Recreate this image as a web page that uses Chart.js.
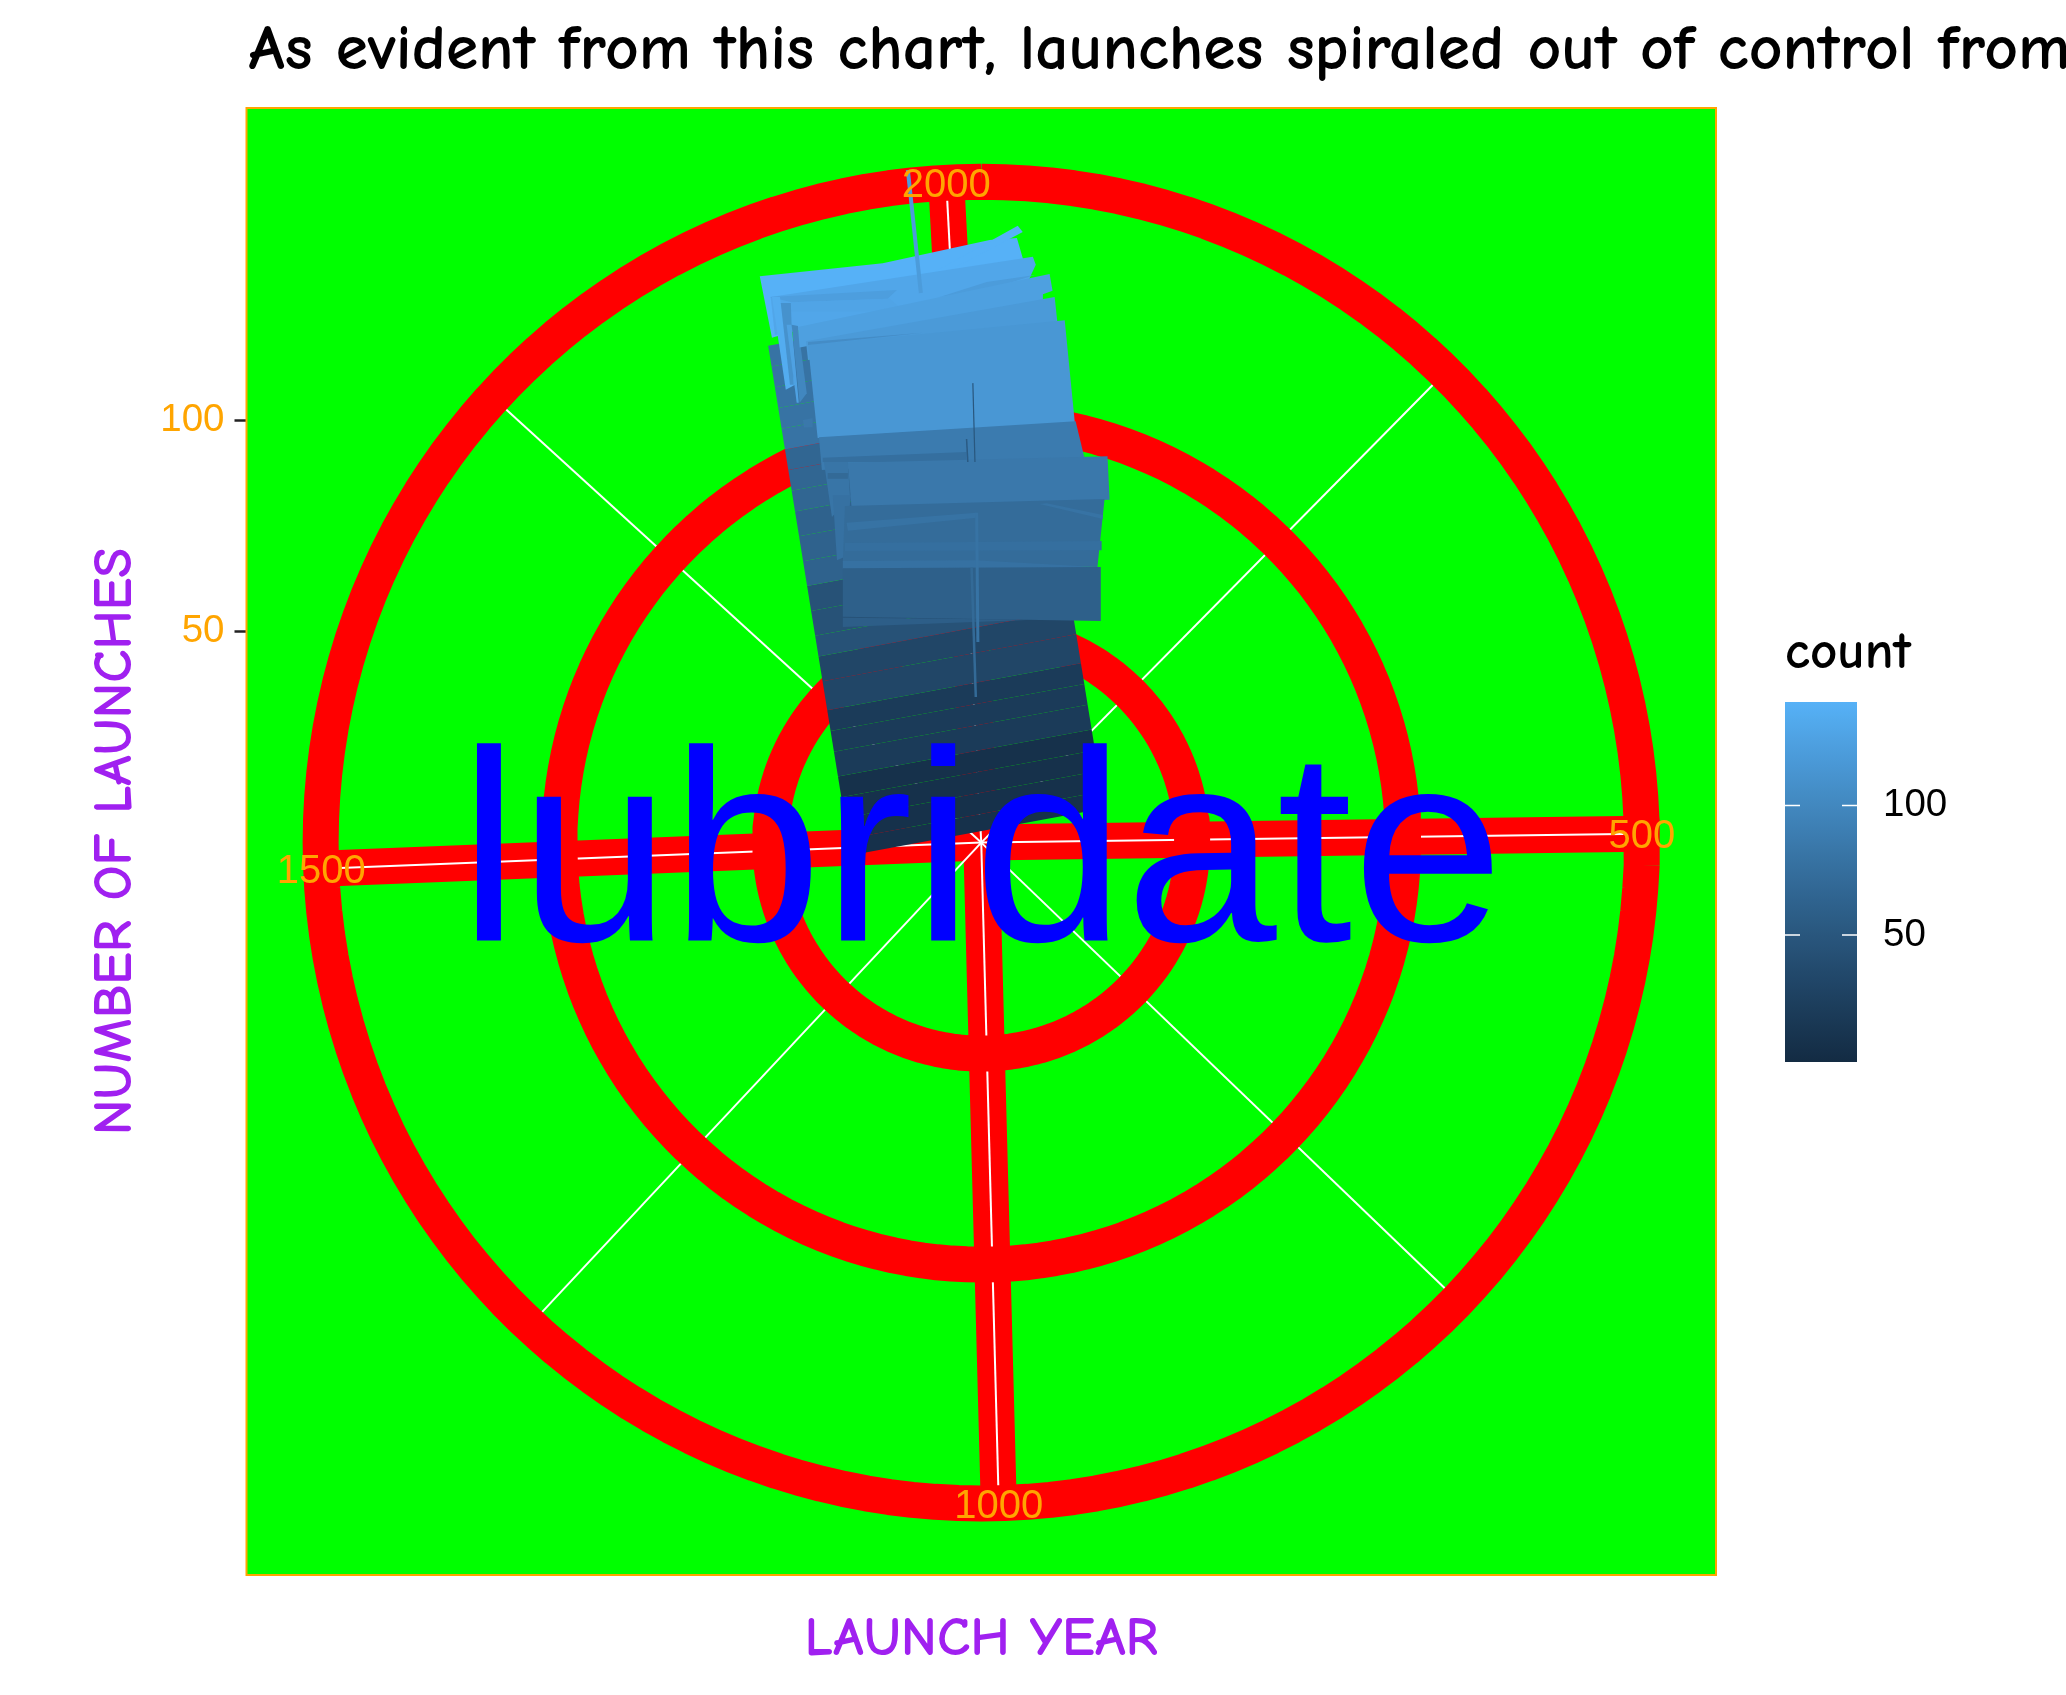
<!DOCTYPE html>
<html lang="en">
<head>
    <meta charset="UTF-8">
    <title>Launches</title>
    <script src="https://cdn.jsdelivr.net/npm/chart.js"></script>
    <style>
        html, body { margin: 0; padding: 0; background: #fff; }
        #wrap { width: 2066px; height: 1695px; }
    </style>
</head>
<body>
    <div id="wrap"><canvas id="launchChart" width="2066" height="1695"></canvas></div>

    <script>
        var titleText = 'As evident from this chart, launches spiraled out of control from';
        var yearSpan = 2017;
        var radiusMax = 156.6;
        var ringLevels = [50, 100, 156.6];
        var majorYears = [500, 1000, 1500, 2000];
        var minorYears = [250, 750, 1250, 1750];
        var yTicks = [50, 100];
        var legendTicks = [50, 100];

        // stacked rows of the column, in launches along the leaning axis
        var rowTops = [6, 11, 16, 21, 27, 32, 37, 44, 50, 55, 61, 67, 73, 79, 85, 90, 95, 100, 105, 110, 115, 120, 125];
        var rowCounts = [8, 8, 8, 8, 20, 20, 20, 32, 32, 45, 45, 45, 62, 62, 62, 66, 66, 66, 80, 80, 80, 80, 80];

        // overlapping pieces on top of the rows, as [x, y] in launches from the centre
        var patchCounts = [140, 140, 130, 122, 120, 128, 135, 110, 125, 100, 124, 118, 115, 105, 85, 88, 76, 82, 70, 78, 85, 72, 80, 80, 76, 78, 60, 58];
        var patchPoints = [
            [[-52.8,135.0],[-23.5,138.1],[2.0,143.6],[8.5,144.1],[10.6,136.9],[-13.5,131.2],[-49.9,120.3]],
            [[8.7,147.0],[9.9,145.5],[-21.1,129.3],[-22.3,129.8]],
            [[-50.2,130.0],[12.3,139.6],[13.0,137.7],[11.1,133.6],[-49.2,121.0]],
            [[-50.4,130.0],[-20.1,131.7],[-22.3,129.6],[-45.2,128.8]],
            [[-9.9,130.0],[1.3,133.6],[12.8,135.3],[1.3,131.7]],
            [[-45.4,128.8],[-21.8,129.6],[-18.2,126.5],[-45.4,126.5]],
            [[-49.9,130.0],[-48.0,130.0],[-44.4,109.1],[-46.6,107.9]],
            [[-47.8,128.6],[-45.4,128.6],[-44.7,109.1],[-45.6,109.1]],
            [[-46.4,123.4],[-45.2,123.4],[-43.5,104.8],[-44.0,104.8]],
            [[-45.2,123.4],[-43.7,123.1],[-41.6,107.1],[-43.3,104.8]],
            [[-43.7,122.9],[16.3,135.5],[17.0,131.5],[14.7,130.7],[14.7,128.8],[-43.3,118.0]],
            [[-41.8,119.5],[17.5,130.0],[18.2,123.5],[-41.3,115.0]],
            [[-41.3,118.6],[19.9,124.5],[22.3,100.2],[-39.0,96.4]],
            [[-41.3,119.3],[-13.9,121.5],[-41.3,118.6]],
            [[-42.5,100.7],[-40.2,101.2],[-40.2,99.0],[-42.3,98.9]],
            [[-38.7,96.6],[22.5,100.4],[24.6,91.7],[-38.0,88.8]],
            [[-37.8,91.7],[-3.5,93.1],[-3.5,90.7],[-37.8,90.7]],
            [[-37.5,90.7],[-31.8,90.7],[-31.3,82.4],[-35.6,77.6]],
            [[-36.6,88.1],[-31.8,88.1],[-31.8,86.7],[-36.6,86.7]],
            [[-35.4,82.8],[-31.1,82.8],[-32.5,68.1],[-34.4,67.3]],
            [[-31.8,90.5],[30.1,92.1],[30.6,81.7],[-30.9,79.7]],
            [[-32.5,80.2],[29.4,81.9],[27.7,65.7],[-33.0,66.8]],
            [[-32.1,76.2],[-1.1,78.6],[-1.1,77.4],[-31.8,74.3]],
            [[15.6,80.9],[29.0,78.1],[29.0,77.1],[13.9,80.7]],
            [[-32.5,71.4],[28.7,71.9],[28.7,69.7],[-32.5,69.5]],
            [[-33.0,67.1],[-1.5,67.3],[27.7,65.7],[27.7,64.5],[-1.5,65.2],[-33.0,65.2]],
            [[-33.0,65.4],[28.5,65.7],[28.5,52.8],[-33.0,53.8]],
            [[-33.0,53.6],[12.3,53.1],[-33.0,51.4]]
        ];

        // narrow one-launch bars seen as streaks
        var streakCounts = [120, 50, 55, 80, 70];
        var streakPoints = [
            [[-17.5,160.3],[-14.4,131.0]],
            [[-2.0,109.5],[-1.5,90.7]],
            [[-3.5,96.2],[-3.2,90.7]],
            [[-1.1,78.6],[-0.8,47.8]],
            [[-2.3,65.5],[-1.3,34.7]]
        ];

        var COMIC = '"Comic Sans MS", "Comic Neue", cursive';
        var HELV = '"Liberation Sans", Arial, sans-serif';
        var PX_PER_LAUNCH = 4.22;
        var READ_SCALE = 4.196 / PX_PER_LAUNCH;

        // ggplot's default gradient runs through Lab, not rgb
        function toLab(hex) {
            var c = [1, 3, 5].map(function (i) {
                var v = parseInt(hex.substr(i, 2), 16) / 255;
                return v > 0.04045 ? Math.pow((v + 0.055) / 1.055, 2.4) : v / 12.92;
            });
            var f = function (t) { return t > 0.008856 ? Math.cbrt(t) : 7.787 * t + 16 / 116; };
            var x = f((0.4124 * c[0] + 0.3576 * c[1] + 0.1805 * c[2]) / 0.95047);
            var y = f(0.2126 * c[0] + 0.7152 * c[1] + 0.0722 * c[2]);
            var z = f((0.0193 * c[0] + 0.1192 * c[1] + 0.9505 * c[2]) / 1.08883);
            return [116 * y - 16, 500 * (x - y), 200 * (y - z)];
        }
        function fromLab(lab) {
            var fy = (lab[0] + 16) / 116, fx = fy + lab[1] / 500, fz = fy - lab[2] / 200;
            var g = function (t) { return t > 0.2069 ? t * t * t : (t - 16 / 116) / 7.787; };
            var x = g(fx) * 0.95047, y = g(fy), z = g(fz) * 1.08883;
            var rgb = [3.2406 * x - 1.5372 * y - 0.4986 * z, -0.9689 * x + 1.8758 * y + 0.0415 * z, 0.0557 * x - 0.2040 * y + 1.0570 * z];
            return 'rgb(' + rgb.map(function (v) {
                v = v > 0.0031308 ? 1.055 * Math.pow(v, 1 / 2.4) - 0.055 : 12.92 * v;
                return Math.round(Math.max(0, Math.min(1, v)) * 255);
            }).join(',') + ')';
        }
        var labLow = toLab('#132B43'), labHigh = toLab('#56B1F7');
        var COUNT_MIN = 1, COUNT_MAX = 140;
        function countColor(c) {
            var t = (c - COUNT_MIN) / (COUNT_MAX - COUNT_MIN);
            return fromLab(labLow.map(function (v, i) { return v + (labHigh[i] - v) * t; }));
        }

        function polar(year, r) {
            var a = year / yearSpan * 2 * Math.PI;
            return { x: r * Math.sin(a), y: r * Math.cos(a) };
        }
        function pair(p) { return { x: p[0] * READ_SCALE, y: p[1] * READ_SCALE }; }

        // the column leans about 9 degrees left of vertical
        var LEAN_SIN = 0.16, LEAN_COS = 0.987;
        function leaning(across, along) {
            return {
                x: (across * LEAN_COS - along * LEAN_SIN) * READ_SCALE,
                y: (across * LEAN_SIN + along * LEAN_COS) * READ_SCALE
            };
        }

        var datasets = [];
        function addLine(points, color, width) {
            datasets.push({ data: points, showLine: true, borderColor: color, borderWidth: width, pointRadius: 0, fill: false, tension: 0, borderCapStyle: 'butt', borderJoinStyle: 'round' });
        }
        function addShape(points, color) {
            var closed = points.concat([points[0]]);
            datasets.push({ data: closed, showLine: true, borderWidth: 0, borderColor: 'transparent', backgroundColor: color, pointRadius: 0, fill: 'shape', tension: 0 });
        }

        var RED_WIDTH = 36, WHITE_WIDTH = 2;
        majorYears.forEach(function (y) { addLine([polar(y, 0), polar(y, radiusMax)], '#FF0000', RED_WIDTH); });
        majorYears.forEach(function (y) { addLine([polar(y, 0), polar(y, radiusMax)], '#FFFFFF', WHITE_WIDTH); });
        minorYears.forEach(function (y) { addLine([polar(y, 0), polar(y, radiusMax)], '#FFFFFF', WHITE_WIDTH); });
        ringLevels.forEach(function (r) {
            var pts = [];
            for (var deg = 0; deg <= 360; deg += 2) pts.push(polar(deg / 360 * yearSpan, r));
            addLine(pts, '#FF0000', RED_WIDTH);
        });

        var ROW_LEFT = -31.2, ROW_RIGHT = 30.3, ROW_SKEW = 1.4, ROW_BASE = 2;
        rowTops.forEach(function (top, i) {
            var low = i === 0 ? ROW_BASE : rowTops[i - 1];
            addShape([leaning(ROW_LEFT, top), leaning(ROW_RIGHT, top + ROW_SKEW), leaning(ROW_RIGHT, low + ROW_SKEW), leaning(ROW_LEFT, low)], countColor(rowCounts[i]));
        });
        patchPoints.forEach(function (pts, i) { addShape(pts.map(pair), countColor(patchCounts[i])); });
        var streakWidths = [4, 1.2, 1.5, 3, 2.5];
        streakPoints.forEach(function (pts, i) { addLine(pts.map(pair), countColor(streakCounts[i]), streakWidths[i]); });

        // chart.js paints lower order on top, so later datasets get lower numbers
        datasets.forEach(function (d, i) { d.order = datasets.length - i; });

        var panelPlugin = {
            id: 'panel',
            beforeDatasetsDraw: function (chart) {
                var a = chart.chartArea, ctx = chart.ctx;
                ctx.save();
                ctx.fillStyle = '#00FF00';
                ctx.fillRect(a.left, a.top, a.right - a.left, a.bottom - a.top);
                ctx.restore();
            },
            afterDatasetsDraw: function (chart) {
                var a = chart.chartArea, ctx = chart.ctx;
                var sx = chart.scales.x, sy = chart.scales.y;
                ctx.save();
                // year labels sit on the outer ring
                ctx.fillStyle = '#FFA500';
                ctx.font = '40px ' + HELV;
                ctx.textAlign = 'center';
                ctx.textBaseline = 'middle';
                majorYears.forEach(function (y) {
                    var p = polar(y, radiusMax);
                    ctx.fillText(String(y), sx.getPixelForValue(p.x), sy.getPixelForValue(p.y) + 3.5);
                });
                ctx.fillStyle = '#0000FF';
                ctx.font = '272.5px ' + HELV;
                ctx.textBaseline = 'alphabetic';
                ctx.fillText('lubridate', sx.getPixelForValue(0), sy.getPixelForValue(0) + 98);
                ctx.strokeStyle = '#FFA500';
                ctx.lineWidth = 2;
                ctx.strokeRect(a.left, a.top, a.right - a.left, a.bottom - a.top);
                // the title runs off the right edge, chart.js's own title would squeeze it to fit
                ctx.fillStyle = '#000000';
                ctx.font = 'bold 65.5px ' + COMIC;
                ctx.textAlign = 'left';
                ctx.fillText(titleText, a.left + 2, 69);
                ctx.restore();
                drawLegend(ctx);
            }
        };

        function drawLegend(ctx) {
            var left = 1785, right = 1857, top = 702, bottom = 1062;
            var tickFor = function (v) { return bottom - (v - COUNT_MIN) / (COUNT_MAX - COUNT_MIN) * (bottom - top); };
            var grad = ctx.createLinearGradient(0, bottom, 0, top);
            for (var i = 0; i <= 20; i++) {
                grad.addColorStop(i / 20, countColor(COUNT_MIN + (COUNT_MAX - COUNT_MIN) * i / 20));
            }
            ctx.save();
            ctx.fillStyle = grad;
            ctx.fillRect(left, top, right - left, bottom - top);
            ctx.strokeStyle = '#FFFFFF';
            ctx.lineWidth = 1.5;
            ctx.fillStyle = '#000000';
            ctx.font = '38.5px ' + HELV;
            ctx.textAlign = 'left';
            ctx.textBaseline = 'middle';
            legendTicks.forEach(function (v) {
                var y = tickFor(v);
                ctx.beginPath();
                ctx.moveTo(left, y); ctx.lineTo(left + 15, y);
                ctx.moveTo(right - 15, y); ctx.lineTo(right, y);
                ctx.stroke();
                ctx.fillText(String(v), 1883, y);
            });
            ctx.font = 'bold 53px ' + COMIC;
            ctx.textBaseline = 'alphabetic';
            ctx.fillText('count', 1785, 668);
            ctx.restore();
        }

        new Chart(document.getElementById('launchChart'), {
            type: 'scatter',
            data: { datasets: datasets },
            plugins: [panelPlugin],
            options: {
                responsive: false,
                animation: false,
                layout: { padding: { right: 350, left: 0, top: 108, bottom: 0 } },
                plugins: {
                    legend: { display: false },
                    tooltip: { enabled: false },
                    title: { display: false }
                },
                scales: {
                    x: {
                        type: 'linear',
                        min: -735 / PX_PER_LAUNCH,
                        max: 735 / PX_PER_LAUNCH,
                        grid: { display: false },
                        border: { display: false },
                        ticks: { display: false },
                        afterFit: function (s) { s.height = 120; },
                        title: { display: true, text: 'LAUNCH YEAR', color: '#A020F0', font: { family: COMIC, size: 55.5, weight: 'bold' }, padding: { top: 0, bottom: 22 } }
                    },
                    y: {
                        type: 'linear',
                        min: -732.4 / PX_PER_LAUNCH,
                        max: 734.6 / PX_PER_LAUNCH,
                        afterBuildTicks: function (s) { s.ticks = yTicks.map(function (v) { return { value: v }; }); },
                        afterFit: function (s) { s.width = 246.5; },
                        border: { display: false },
                        grid: { drawOnChartArea: false, drawTicks: true, tickLength: 12, tickWidth: 2.5, tickColor: '#222222' },
                        ticks: { color: '#FFA500', padding: 10, font: { family: HELV, size: 38.5 } },
                        title: { display: true, text: 'NUMBER OF LAUNCHES', color: '#A020F0', font: { family: COMIC, size: 55, weight: 'bold' }, padding: { top: 82, bottom: 0 } }
                    }
                }
            }
        });
    </script>
</body>
</html>
